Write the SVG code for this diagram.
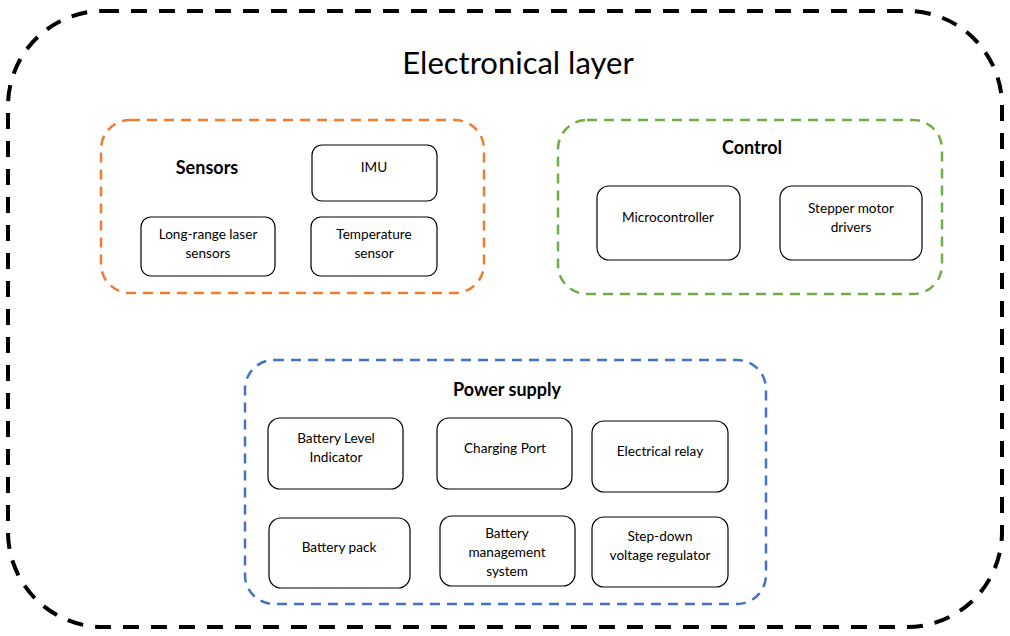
<svg xmlns="http://www.w3.org/2000/svg" width="1010" height="636" viewBox="0 0 1010 636">
<style>
.grp{fill:none;stroke-width:2.5;stroke-dasharray:10 7;stroke-linecap:butt}
.node rect{fill:#fff;stroke:#000;stroke-width:1.2}
.t{font-family:Lato,"Liberation Sans",sans-serif;font-size:13.6px;fill:#000;text-anchor:middle}
.h{font-family:Lato,"Liberation Sans",sans-serif;font-size:18px;font-weight:bold;fill:#000;text-anchor:middle}
</style>
<rect width="1010" height="636" fill="#fff"/>
<g id="electronical-layer">
<rect x="8" y="11" width="994" height="616" rx="95" ry="95" fill="none" stroke="#000" stroke-width="4" stroke-dasharray="16 12"/>
<text x="518" y="74" font-family="Lato,'Liberation Sans',sans-serif" font-size="31" text-anchor="middle" fill="#000">Electronical layer</text>
</g>
<g id="sensors">
<rect class="grp" x="101" y="120" width="383" height="173" rx="29" stroke="#ED7D31"/>
<text class="h" x="207" y="174">Sensors</text>
</g>
<g id="control">
<rect class="grp" x="558" y="120" width="384" height="174" rx="29" stroke="#70AD47"/>
<text class="h" x="752" y="154">Control</text>
</g>
<g id="power-supply">
<rect class="grp" x="245" y="360" width="521" height="244" rx="29" stroke="#4472C4"/>
<text class="h" x="507" y="396">Power supply</text>
</g>
<g id="imu" class="node"><rect x="312" y="145" width="125" height="56" rx="10"/><text class="t" x="374" y="172">IMU</text></g>
<g id="laser" class="node"><rect x="141" y="217" width="134" height="59" rx="10"/><text class="t" x="208" y="239">Long-range laser</text><text class="t" x="208" y="258">sensors</text></g>
<g id="temp" class="node"><rect x="311" y="217" width="126" height="59" rx="10"/><text class="t" x="374" y="239">Temperature</text><text class="t" x="374" y="258">sensor</text></g>
<g id="mcu" class="node"><rect x="597" y="186" width="143" height="74" rx="12"/><text class="t" x="668" y="222">Microcontroller</text></g>
<g id="stepper" class="node"><rect x="780" y="186" width="142" height="74" rx="12"/><text class="t" x="851" y="213">Stepper motor</text><text class="t" x="851" y="232">drivers</text></g>
<g id="bli" class="node"><rect x="268" y="418" width="135" height="71" rx="12"/><text class="t" x="336" y="443">Battery Level</text><text class="t" x="336" y="462">Indicator</text></g>
<g id="charging" class="node"><rect x="437" y="418" width="135" height="71" rx="12"/><text class="t" x="505" y="453">Charging Port</text></g>
<g id="relay" class="node"><rect x="592" y="421" width="136" height="71" rx="12"/><text class="t" x="660" y="456">Electrical relay</text></g>
<g id="pack" class="node"><rect x="269" y="518" width="141" height="70" rx="12"/><text class="t" x="339" y="552">Battery pack</text></g>
<g id="bms" class="node"><rect x="440" y="516" width="135" height="70" rx="12"/><text class="t" x="507" y="538">Battery</text><text class="t" x="507" y="557">management</text><text class="t" x="507" y="576">system</text></g>
<g id="stepdown" class="node"><rect x="592" y="517" width="136" height="70" rx="12"/><text class="t" x="660" y="541">Step-down</text><text class="t" x="660" y="560">voltage regulator</text></g>
<g id="connectors"></g>
</svg>
